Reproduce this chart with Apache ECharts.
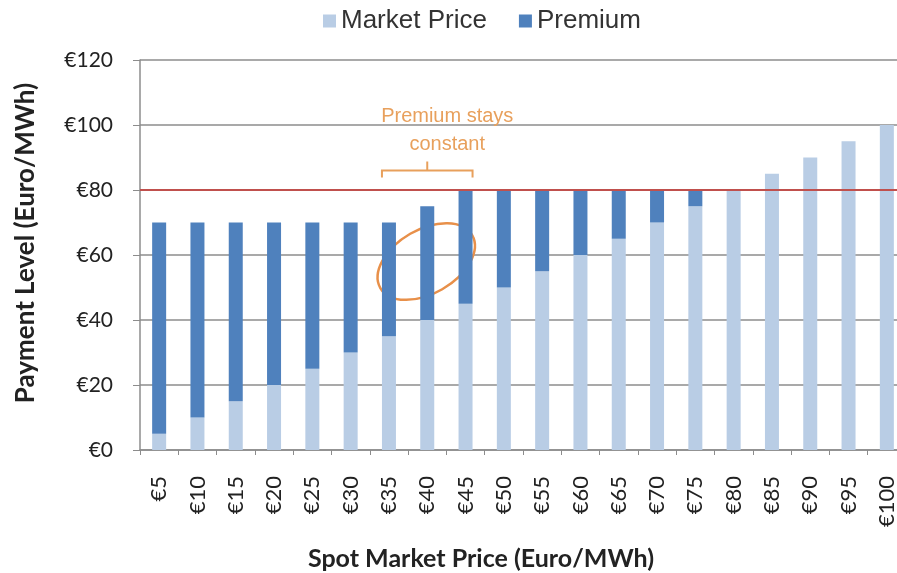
<!DOCTYPE html>
<html>
<head>
<meta charset="utf-8">
<script src="https://cdn.jsdelivr.net/npm/echarts@6/dist/echarts.min.js"></script>
<style>
  html, body { margin: 0; padding: 0; background: #fff; }
  #main { width: 897px; height: 573px; }
</style>
</head>
<body>
<div id="main"></div>
<script>
// spot price categories
var categories = ['€5', '€10', '€15', '€20', '€25', '€30', '€35', '€40', '€45', '€50',
                  '€55', '€60', '€65', '€70', '€75', '€80', '€85', '€90', '€95', '€100'];
// market price part of the payment
var marketPrice = [5, 10, 15, 20, 25, 30, 35, 40, 45, 50, 55, 60, 65, 70, 75, 80, 85, 90, 95, 100];
// premium on top of it
var premium = [65, 60, 55, 50, 45, 40, 35, 35, 35, 30, 25, 20, 15, 10, 5, 0, 0, 0, 0, 0];
var capLevel = 80;
var yTicks = [0, 20, 40, 60, 80, 100, 120];

var labelFont = 'Lato, "Open Sans", sans-serif';
var orange = '#E8A05C';

var chart = echarts.init(document.getElementById('main'));

var option = {
    animation: false,
    legend: {
        data: ['Market Price', 'Premium'],
        top: 3,
        left: 318,
        itemWidth: 13,
        itemHeight: 13,
        itemGap: 32,
        icon: 'rect',
        textStyle: { fontFamily: '"Liberation Sans", Arial, sans-serif', fontSize: 26, color: '#333' }
    },
    grid: {
        left: 140,
        top: 60,
        width: 766,
        height: 390,
        outerBoundsMode: 'none'
    },
    xAxis: {
        type: 'category',
        data: categories,
        name: 'Spot Market Price (Euro/MWh)',
        nameLocation: 'middle',
        nameGap: 96,
        nameTextStyle: {
            fontFamily: labelFont, fontWeight: 'bold', fontSize: 25, color: '#222',
            padding: [0, 84, 0, 0]
        },
        axisLine: { lineStyle: { color: '#8c8c8c', width: 1.5 } },
        axisTick: { show: true, length: 5, lineStyle: { color: '#8c8c8c' } },
        axisLabel: { rotate: 90, fontFamily: labelFont, fontSize: 22, color: '#222', margin: 26 },
        splitLine: { show: false }
    },
    yAxis: {
        type: 'value',
        min: 0,
        max: 120,
        interval: 20,
        name: 'Payment Level (Euro/MWh)',
        nameLocation: 'middle',
        nameGap: 101,
        nameTextStyle: {
            fontFamily: labelFont, fontWeight: 'bold', fontSize: 26, color: '#222',
            padding: [0, 0, 0, 24]
        },
        axisLine: { show: true, lineStyle: { color: '#8c8c8c', width: 1.5 } },
        axisTick: { show: true, length: 7, lineStyle: { color: '#8c8c8c' } },
        axisLabel: {
            fontFamily: labelFont, fontSize: 21, color: '#222', margin: 27,
            formatter: function (v) { return yTicks.indexOf(v) >= 0 ? '€' + v : ''; }
        },
        splitLine: { lineStyle: { color: '#8c8c8c', width: 1.5 } }
    },
    series: [
        {
            name: 'Market Price',
            type: 'bar',
            stack: 'pay',
            barWidth: 14,
            itemStyle: { color: '#B9CDE5' },
            data: marketPrice
        },
        {
            name: 'Premium',
            type: 'bar',
            stack: 'pay',
            barWidth: 14,
            itemStyle: { color: '#4F81BD' },
            data: premium,
            markLine: {
                silent: true,
                symbol: 'none',
                label: { show: false },
                lineStyle: { color: '#C0504D', type: 'solid', width: 2 },
                data: [{ yAxis: capLevel }]
            }
        }
    ]
};

chart.setOption(option);

// annotation placed from data coordinates
var pLeft = chart.convertToPixel({ xAxisIndex: 0, yAxisIndex: 0 }, ['€35', 86]);
var pRight = chart.convertToPixel({ xAxisIndex: 0, yAxisIndex: 0 }, ['€45', 86]);
var pMid = chart.convertToPixel({ xAxisIndex: 0, yAxisIndex: 0 }, ['€40', 58]);
var bx0 = pLeft[0] - 7, bx1 = pRight[0] + 7, by = pLeft[1];
var bmid = (bx0 + bx1) / 2;

chart.setOption({
    graphic: [
        {
            type: 'polyline',
            shape: { points: [[bx0, by + 7], [bx0, by], [bx1, by], [bx1, by + 7]] },
            style: { stroke: orange, lineWidth: 2, fill: null }
        },
        {
            type: 'line',
            shape: { x1: bmid, y1: by, x2: bmid, y2: by - 9 },
            style: { stroke: orange, lineWidth: 2 }
        },
        {
            type: 'text',
            x: bmid + 20,
            y: by - 68,
            style: {
                text: 'Premium stays\nconstant',
                align: 'center',
                fill: orange,
                font: '20px "Liberation Sans", Arial, sans-serif',
                lineHeight: 28
            }
        },
        {
            type: 'ellipse',
            x: pMid[0] - 1,
            y: pMid[1],
            rotation: Math.PI / 6,
            shape: { cx: 0, cy: 0, rx: 53, ry: 32 },
            style: { stroke: '#E8904A', lineWidth: 2.5, fill: null }
        }
    ]
});
</script>
</body>
</html>
